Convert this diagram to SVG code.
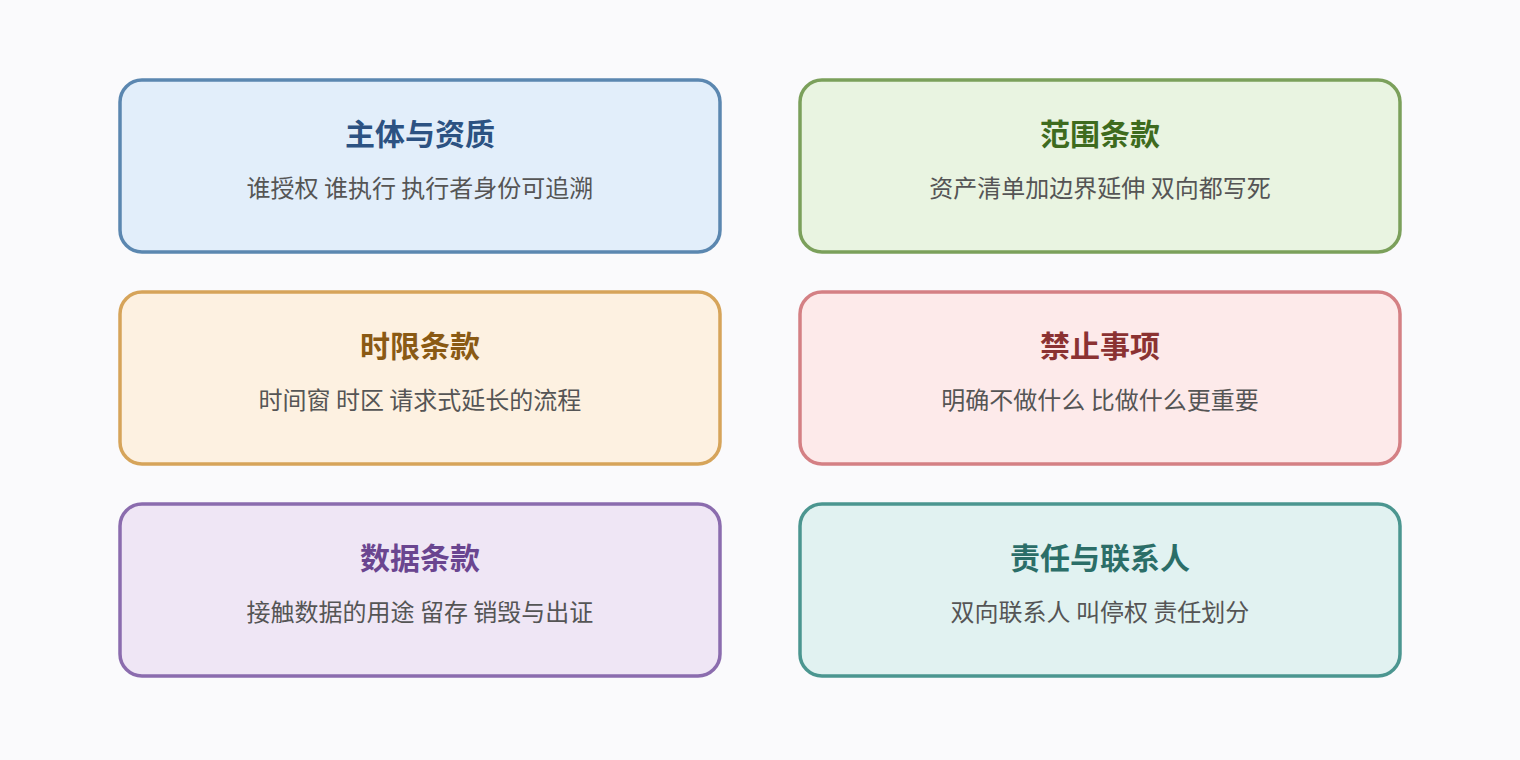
<svg xmlns="http://www.w3.org/2000/svg" width="1520" height="760" viewBox="0 0 1520 760">
<style>
.box{stroke-width:3.5}
.t{font-family:"Noto Sans CJK SC","Noto Sans",sans-serif;font-size:30px;font-weight:bold;text-anchor:middle}
.s{font-family:"Noto Sans CJK SC","Noto Sans",sans-serif;font-size:24px;fill:#555555;text-anchor:middle}
</style>
<rect width="1520" height="760" fill="#fafafc"/>
<g id="node1">
<rect class="box" x="120" y="80" width="600" height="172" rx="22" fill="#e2eefa" stroke="#5b87b0"/>
<text class="t" x="420" y="145" fill="#2c5282">主体与资质</text>
<text class="s" x="420" y="197">谁授权 谁执行 执行者身份可追溯</text>
</g>
<g id="node2">
<rect class="box" x="800" y="80" width="600" height="172" rx="22" fill="#e9f4e1" stroke="#7ba05b"/>
<text class="t" x="1100" y="145" fill="#3e6b1e">范围条款</text>
<text class="s" x="1100" y="197">资产清单加边界延伸 双向都写死</text>
</g>
<g id="node3">
<rect class="box" x="120" y="292" width="600" height="172" rx="22" fill="#fdf1e1" stroke="#d6a45a"/>
<text class="t" x="420" y="357" fill="#8a5a14">时限条款</text>
<text class="s" x="420" y="409">时间窗 时区 请求式延长的流程</text>
</g>
<g id="node4">
<rect class="box" x="800" y="292" width="600" height="172" rx="22" fill="#fdeaea" stroke="#d48084"/>
<text class="t" x="1100" y="357" fill="#8b3232">禁止事项</text>
<text class="s" x="1100" y="409">明确不做什么 比做什么更重要</text>
</g>
<g id="node5">
<rect class="box" x="120" y="504" width="600" height="172" rx="22" fill="#efe6f5" stroke="#8b6cae"/>
<text class="t" x="420" y="569" fill="#6a4590">数据条款</text>
<text class="s" x="420" y="621">接触数据的用途 留存 销毁与出证</text>
</g>
<g id="node6">
<rect class="box" x="800" y="504" width="600" height="172" rx="22" fill="#e1f2f1" stroke="#4b9690"/>
<text class="t" x="1100" y="569" fill="#2b6e68">责任与联系人</text>
<text class="s" x="1100" y="621">双向联系人 叫停权 责任划分</text>
</g>
<g id="connectors"></g>
</svg>
